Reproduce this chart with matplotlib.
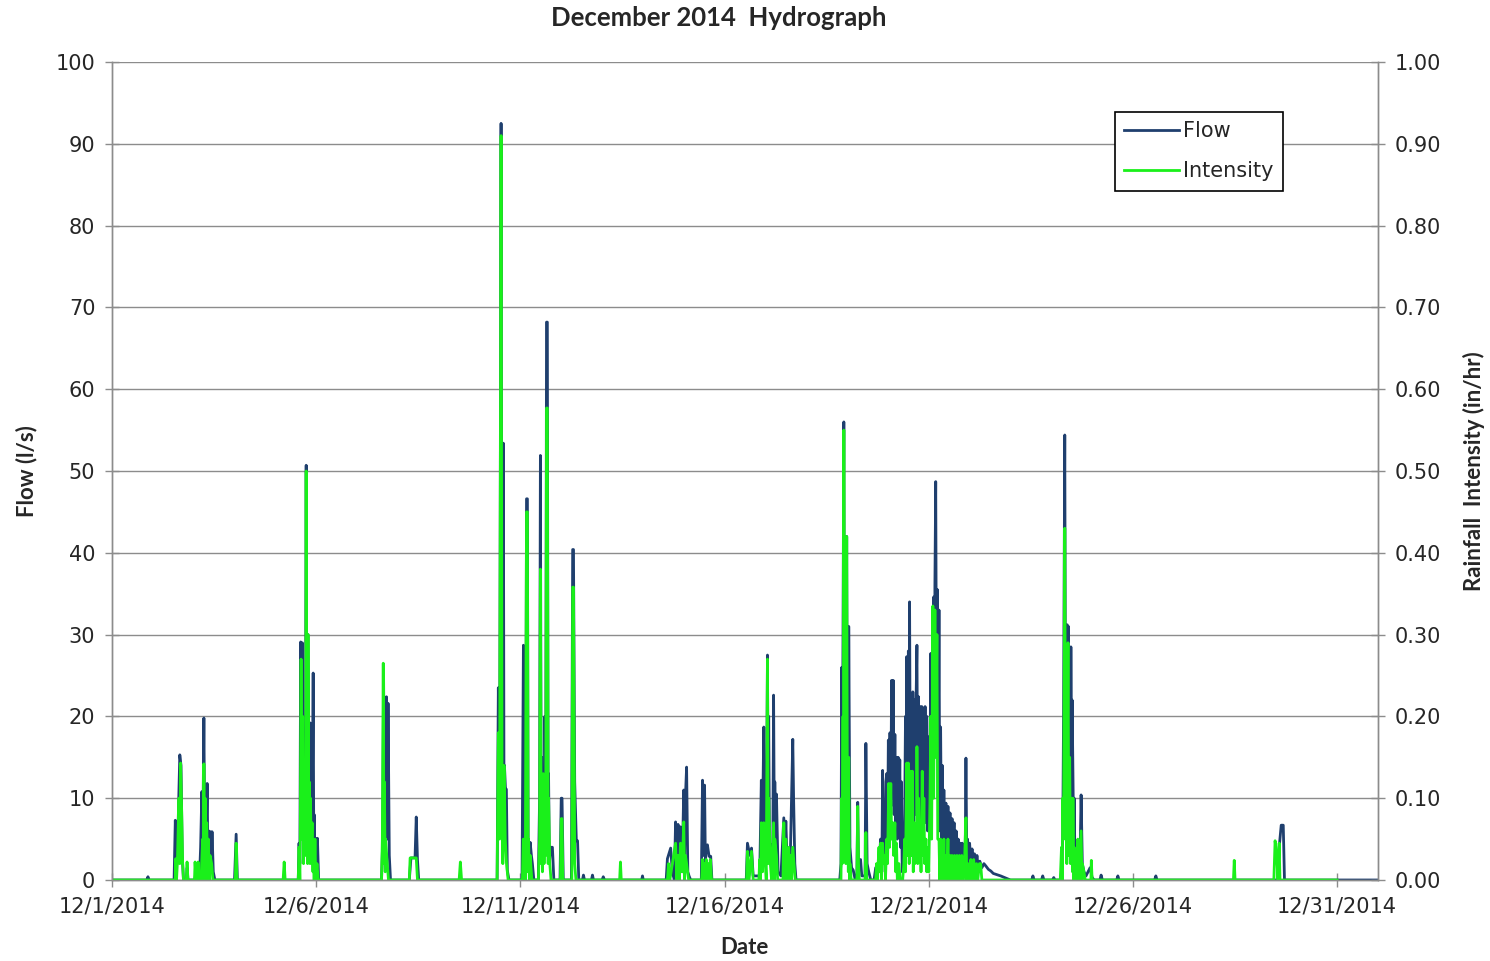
import numpy as np
import pandas as pd
import matplotlib
matplotlib.use("Agg")
import matplotlib.pyplot as plt
import matplotlib.dates as mdates
from matplotlib.ticker import FuncFormatter

# ---- data: (days after 12/1/2014 00:00, value) ----
# Flow, l/s
flow_pts = [
    (0.00, 0), (0.85, 0), (0.88, 0.4), (0.91, 0),
    (1.52, 0), (1.55, 7.3), (1.58, 2), (1.62, 7), (1.66, 15.3), (1.69, 14), (1.72, 3), (1.75, 0),
    (1.82, 0), (1.84, 1.5), (1.86, 0), (2.03, 0), (2.06, 1.5), (2.09, 0),
    (2.14, 0), (2.17, 4), (2.20, 10.8), (2.22, 3), (2.25, 19.8), (2.27, 5), (2.28, 9), (2.30, 3),
    (2.33, 11.8), (2.35, 2), (2.37, 6), (2.39, 1), (2.41, 5.9), (2.43, 2), (2.45, 5.9), (2.48, 1), (2.52, 0),
    (3.00, 0), (3.04, 5.6), (3.07, 0),
    (4.56, 0), (4.58, 4.5), (4.60, 2), (4.62, 29.1), (4.64, 10), (4.66, 29), (4.68, 8), (4.70, 12),
    (4.72, 5), (4.74, 20), (4.755, 50.7), (4.77, 15), (4.78, 30), (4.80, 30), (4.82, 8), (4.83, 14),
    (4.853, 19.2), (4.87, 6), (4.88, 10), (4.90, 4), (4.926, 25.3), (4.94, 5), (4.95, 8), (4.97, 3),
    (4.98, 5.1), (5.00, 2), (5.03, 5.1), (5.06, 0),
    (6.60, 0), (6.63, 5), (6.65, 25.3), (6.67, 8), (6.68, 22), (6.70, 6), (6.72, 22.4), (6.74, 5),
    (6.76, 21.6), (6.79, 3), (6.82, 0),
    (7.28, 0), (7.32, 2.7), (7.42, 2.7), (7.45, 7.7), (7.48, 2.5), (7.51, 0),
    (9.43, 0), (9.46, 23.5), (9.49, 8), (9.527, 92.5), (9.55, 10), (9.56, 20), (9.583, 53.4),
    (9.60, 6), (9.61, 14), (9.635, 11.1), (9.657, 11.1), (9.68, 1.2), (9.72, 0),
    (10.04, 0), (10.074, 28.7), (10.10, 4.5), (10.13, 3), (10.15, 46.6), (10.172, 46.6), (10.19, 3),
    (10.20, 4.6), (10.22, 1), (10.24, 4.6), (10.27, 3), (10.294, 2), (10.33, 0),
    (10.44, 0), (10.47, 10), (10.49, 51.9), (10.51, 5), (10.52, 15), (10.54, 3), (10.56, 10),
    (10.58, 4), (10.60, 20), (10.62, 8), (10.64, 68.2), (10.66, 68.2), (10.68, 6), (10.69, 13),
    (10.71, 2), (10.74, 4), (10.784, 4), (10.82, 0),
    (10.97, 0), (11.00, 10), (11.02, 10), (11.05, 0),
    (11.25, 0), (11.28, 40.4), (11.30, 40.4), (11.33, 12), (11.37, 4.8), (11.40, 4.8), (11.43, 0),
    (11.52, 0), (11.544, 0.6), (11.57, 0), (11.74, 0), (11.765, 0.6), (11.79, 0),
    (12.00, 0), (12.03, 0.4), (12.06, 0),
    (12.97, 0), (12.99, 0.5), (13.01, 0),
    (13.57, 0), (13.60, 2.6), (13.68, 3.9), (13.72, 1), (13.77, 0), (13.80, 7.1), (13.83, 2),
    (13.86, 6.8), (13.89, 2), (13.92, 6.5), (13.96, 1), (14.00, 11), (14.02, 3), (14.04, 10),
    (14.07, 13.8), (14.10, 1), (14.13, 0.5), (14.17, 0),
    (14.43, 0), (14.46, 12.2), (14.48, 3), (14.51, 11.6), (14.53, 2), (14.55, 4), (14.58, 4.3),
    (14.62, 2.9), (14.66, 2.9), (14.69, 0),
    (15.53, 0), (15.56, 4.5), (15.62, 3), (15.66, 3.9), (15.70, 0.5), (15.86, 0.5),
    (15.90, 12.2), (15.92, 3), (15.96, 18.7), (15.98, 4), (16.00, 8), (16.02, 3), (16.05, 27.5),
    (16.07, 5), (16.08, 20), (16.10, 4), (16.12, 3), (16.15, 4.3), (16.18, 3), (16.20, 22.6),
    (16.22, 4), (16.23, 12), (16.25, 3), (16.27, 10.5), (16.31, 1), (16.38, 0.5), (16.45, 7.6),
    (16.47, 2), (16.50, 7.2), (16.54, 1), (16.57, 3), (16.61, 3), (16.67, 17.2), (16.69, 10),
    (16.72, 2), (16.75, 0),
    (17.82, 0), (17.85, 2), (17.87, 26), (17.88, 8), (17.90, 30), (17.92, 56), (17.94, 10),
    (17.95, 30), (17.97, 8), (17.99, 42), (18.01, 6), (18.02, 20), (18.03, 5), (18.04, 31),
    (18.07, 4), (18.11, 1.5), (18.15, 1.2), (18.20, 0),
    (18.24, 0.5), (18.26, 9.5), (18.28, 1), (18.33, 2.5), (18.36, 0.5), (18.44, 0.5),
    (18.46, 16.7), (18.49, 2), (18.53, 1), (18.58, 0),
    (18.66, 0), (18.70, 1.5), (18.78, 1.5), (18.82, 5), (18.85, 1), (18.87, 13.4), (18.89, 3),
    (18.91, 8), (18.93, 2), (18.95, 12), (18.97, 13), (18.99, 4), (19.01, 17.1), (19.03, 8),
    (19.05, 18), (19.07, 9), (19.09, 24.4), (19.11, 10), (19.13, 24.4), (19.15, 8), (19.17, 17.8),
    (19.19, 6), (19.21, 15), (19.23, 5), (19.25, 15), (19.27, 6), (19.29, 14.7), (19.31, 4),
    (19.33, 12), (19.35, 1), (19.37, 2), (19.39, 1.5), (19.41, 8), (19.43, 20), (19.45, 6),
    (19.46, 27.3), (19.48, 10), (19.50, 28), (19.52, 12), (19.53, 34), (19.55, 8), (19.57, 22),
    (19.59, 9), (19.61, 23), (19.63, 7), (19.65, 22), (19.67, 8), (19.69, 22.4), (19.71, 28.7),
    (19.73, 9), (19.75, 22.4), (19.77, 7), (19.79, 21.2), (19.81, 8), (19.83, 21.2), (19.85, 6),
    (19.87, 21), (19.89, 9), (19.91, 21.2), (19.93, 7), (19.95, 20), (19.97, 6), (20.00, 17.5),
    (20.02, 8), (20.05, 27.7), (20.07, 10), (20.09, 24), (20.11, 12), (20.12, 34.6), (20.14, 15),
    (20.15, 36), (20.17, 48.7), (20.19, 20), (20.21, 35.5), (20.23, 10), (20.25, 33), (20.27, 6),
    (20.29, 18.7), (20.31, 4), (20.33, 14), (20.35, 3), (20.37, 11), (20.39, 3), (20.42, 9.4),
    (20.44, 2), (20.47, 9), (20.49, 3), (20.52, 8.2), (20.54, 2), (20.57, 7.5), (20.59, 3),
    (20.62, 7), (20.64, 2), (20.67, 6), (20.69, 3), (20.72, 5), (20.74, 2), (20.77, 4.5),
    (20.79, 2), (20.82, 4.5), (20.84, 2), (20.87, 4), (20.89, 2), (20.91, 14.9), (20.93, 3),
    (20.95, 5), (20.97, 2), (21.00, 4.5), (21.03, 2), (21.06, 3.8), (21.09, 2), (21.12, 3.2),
    (21.15, 1.5), (21.18, 3), (21.21, 1.5), (21.25, 2.3), (21.30, 1.5), (21.35, 2), (21.40, 1.7),
    (21.46, 1.3), (21.52, 1.1), (21.58, 0.8), (21.64, 0.7), (21.70, 0.6), (21.76, 0.5),
    (21.90, 0.2), (22.00, 0),
    (22.52, 0), (22.55, 0.5), (22.58, 0), (22.76, 0), (22.79, 0.5), (22.82, 0),
    (23.03, 0), (23.06, 0.3), (23.09, 0),
    (23.22, 0), (23.25, 1), (23.28, 5), (23.30, 20), (23.33, 54.4), (23.35, 15), (23.37, 30),
    (23.39, 31.2), (23.40, 12), (23.42, 31), (23.44, 10), (23.45, 22), (23.47, 12), (23.48, 28.5),
    (23.50, 8), (23.51, 22), (23.53, 13.4), (23.55, 4), (23.56, 10), (23.58, 2), (23.60, 4),
    (23.65, 2), (23.70, 1.5), (23.73, 10.4), (23.76, 2), (23.80, 1), (23.85, 0.5), (23.95, 1.5),
    (24.00, 0.3), (24.05, 0),
    (24.19, 0), (24.22, 0.6), (24.25, 0), (24.60, 0), (24.63, 0.5), (24.66, 0),
    (25.53, 0), (25.56, 0.5), (25.59, 0),
    (28.55, 0), (28.58, 4), (28.63, 6.7), (28.68, 6.7), (28.71, 0),
    (31.00, 0),
]

# Rainfall intensity, in/hr
rain_pts = [
    (0.00, 0),
    (1.55, 0), (1.56, 0.026), (1.58, 0), (1.60, 0.02), (1.64, 0.10), (1.66, 0.02), (1.68, 0.143),
    (1.70, 0.10), (1.73, 0.02), (1.75, 0),
    (1.82, 0), (1.838, 0.022), (1.86, 0), (2.02, 0), (2.034, 0.022), (2.06, 0),
    (2.09, 0), (2.108, 0.022), (2.13, 0),
    (2.18, 0), (2.22, 0.05), (2.23, 0), (2.25, 0.142), (2.27, 0.01), (2.28, 0.10), (2.30, 0),
    (2.32, 0.07), (2.34, 0), (2.36, 0.05), (2.38, 0), (2.40, 0.03), (2.44, 0.02), (2.47, 0),
    (3.02, 0), (3.04, 0.045), (3.06, 0),
    (4.19, 0), (4.216, 0.022), (4.24, 0),
    (4.56, 0), (4.58, 0.04), (4.60, 0), (4.61, 0.05), (4.63, 0.27), (4.65, 0.05), (4.67, 0.20),
    (4.69, 0.02), (4.72, 0.10), (4.74, 0.03), (4.755, 0.50), (4.77, 0.05), (4.78, 0.14),
    (4.79, 0.02), (4.80, 0.30), (4.82, 0.05), (4.83, 0.12), (4.85, 0.02), (4.86, 0.10),
    (4.88, 0.03), (4.90, 0.07), (4.92, 0.01), (4.93, 0.04), (4.95, 0), (4.97, 0.05), (4.99, 0),
    (5.02, 0.02), (5.05, 0),
    (6.60, 0), (6.62, 0.05), (6.642, 0.265), (6.66, 0.02), (6.67, 0.12), (6.69, 0.01),
    (6.70, 0.05), (6.74, 0.02), (6.77, 0),
    (7.28, 0), (7.30, 0.027), (7.45, 0.027), (7.48, 0),
    (8.50, 0), (8.53, 0.022), (8.56, 0),
    (9.43, 0), (9.46, 0.18), (9.49, 0.05), (9.527, 0.91), (9.55, 0.12), (9.57, 0.02),
    (9.60, 0.14), (9.63, 0.05), (9.66, 0.02), (9.70, 0),
    (10.05, 0), (10.07, 0.05), (10.10, 0.03), (10.12, 0), (10.15, 0.45), (10.172, 0.45),
    (10.19, 0.01), (10.20, 0.05), (10.22, 0), (10.24, 0.03), (10.28, 0),
    (10.44, 0), (10.47, 0.05), (10.49, 0.38), (10.51, 0.02), (10.52, 0.10), (10.54, 0.01),
    (10.56, 0.13), (10.58, 0.02), (10.60, 0.10), (10.62, 0.03), (10.64, 0.577), (10.66, 0.577),
    (10.68, 0.02), (10.69, 0.10), (10.72, 0.02), (10.75, 0),
    (10.98, 0), (11.00, 0.075), (11.02, 0.075), (11.04, 0),
    (11.26, 0), (11.28, 0.358), (11.30, 0.358), (11.33, 0.02), (11.36, 0),
    (12.43, 0), (12.45, 0.022), (12.47, 0),
    (13.60, 0), (13.63, 0.02), (13.66, 0), (13.80, 0.045), (13.83, 0), (13.86, 0.03),
    (13.89, 0), (13.92, 0.045), (13.96, 0.01), (14.00, 0.071), (14.02, 0), (14.04, 0.03),
    (14.07, 0.02), (14.12, 0),
    (14.44, 0), (14.46, 0.025), (14.48, 0), (14.50, 0.02), (14.52, 0), (14.55, 0.025),
    (14.57, 0), (14.60, 0.02), (14.62, 0), (14.65, 0.025), (14.68, 0),
    (15.54, 0), (15.56, 0.035), (15.60, 0), (15.66, 0.035), (15.70, 0),
    (15.84, 0), (15.86, 0.025), (15.88, 0), (15.90, 0.07), (15.93, 0.01), (15.96, 0.07),
    (16.00, 0.02), (16.02, 0), (16.05, 0.27), (16.07, 0.02), (16.08, 0.10), (16.12, 0.02),
    (16.15, 0), (16.20, 0.07), (16.22, 0), (16.23, 0.05), (16.27, 0.03), (16.30, 0),
    (16.43, 0), (16.45, 0.07), (16.47, 0), (16.50, 0.05), (16.53, 0), (16.57, 0.04),
    (16.60, 0), (16.62, 0.03), (16.64, 0), (16.67, 0.04), (16.70, 0.02), (16.73, 0),
    (17.85, 0), (17.87, 0.10), (17.88, 0.02), (17.90, 0.20), (17.91, 0.05), (17.92, 0.55),
    (17.94, 0.05), (17.95, 0.30), (17.97, 0.02), (17.99, 0.42), (18.01, 0.05), (18.02, 0.10),
    (18.03, 0.01), (18.04, 0.15), (18.06, 0), (18.07, 0.02), (18.10, 0),
    (18.24, 0), (18.26, 0.09), (18.28, 0.02), (18.30, 0),
    (18.44, 0), (18.46, 0.058), (18.48, 0),
    (18.70, 0), (18.72, 0.02), (18.74, 0), (18.78, 0.04), (18.80, 0.01), (18.82, 0.045),
    (18.84, 0), (18.87, 0.045), (18.89, 0.02), (18.92, 0.03), (18.94, 0), (18.97, 0.05),
    (18.99, 0.02), (19.02, 0.118), (19.04, 0.04), (19.07, 0.118), (19.09, 0.05), (19.12, 0.07),
    (19.14, 0.03), (19.17, 0.07), (19.19, 0.01), (19.21, 0.045), (19.23, 0), (19.27, 0.02),
    (19.30, 0), (19.36, 0), (19.39, 0.02), (19.41, 0.05), (19.43, 0.01), (19.46, 0.143),
    (19.48, 0.03), (19.50, 0.143), (19.52, 0.02), (19.54, 0.05), (19.56, 0.133), (19.58, 0.03),
    (19.60, 0.133), (19.62, 0.01), (19.64, 0.07), (19.66, 0.02), (19.68, 0.04), (19.70, 0.03),
    (19.71, 0.163), (19.73, 0.02), (19.75, 0.10), (19.77, 0.03), (19.79, 0.07), (19.81, 0.01),
    (19.84, 0.133), (19.86, 0.03), (19.88, 0.10), (19.90, 0.02), (19.93, 0.05), (19.95, 0.01),
    (19.98, 0.04), (20.00, 0.01), (20.03, 0.10), (20.05, 0.20), (20.07, 0.05), (20.10, 0.335),
    (20.12, 0.10), (20.15, 0.33), (20.17, 0.15), (20.20, 0.30), (20.22, 0.05), (20.25, 0.05),
    (20.27, 0), (20.29, 0.05), (20.31, 0), (20.33, 0.03), (20.35, 0), (20.37, 0.05), (20.39, 0),
    (20.42, 0.03), (20.44, 0), (20.47, 0.05), (20.49, 0), (20.52, 0.03), (20.54, 0),
    (20.57, 0.03), (20.60, 0), (20.63, 0.03), (20.66, 0), (20.69, 0.03), (20.72, 0),
    (20.75, 0.03), (20.78, 0), (20.81, 0.03), (20.85, 0), (20.88, 0.03), (20.91, 0.076),
    (20.93, 0), (20.96, 0.02), (21.00, 0), (21.03, 0.025), (21.06, 0), (21.10, 0.025),
    (21.13, 0), (21.17, 0.02), (21.20, 0), (21.24, 0.02), (21.27, 0.02), (21.30, 0),
    (23.22, 0), (23.25, 0.04), (23.27, 0), (23.28, 0.10), (23.30, 0.05), (23.33, 0.43),
    (23.35, 0.05), (23.36, 0.20), (23.38, 0.02), (23.41, 0.29), (23.43, 0.03), (23.45, 0.15),
    (23.47, 0.02), (23.50, 0.10), (23.52, 0.01), (23.53, 0.10), (23.55, 0), (23.56, 0.04),
    (23.58, 0), (23.60, 0.02), (23.63, 0), (23.65, 0.05), (23.67, 0), (23.70, 0.03),
    (23.73, 0.06), (23.75, 0), (23.76, 0.02), (23.80, 0.01), (23.83, 0),
    (23.97, 0), (23.98, 0.024), (24.00, 0),
    (27.46, 0), (27.48, 0.024), (27.50, 0),
    (28.45, 0), (28.48, 0.048), (28.52, 0.03), (28.55, 0), (28.58, 0.045), (28.60, 0),
    (30.00, 0),
]

tick_dates = ["2014-12-01", "2014-12-06", "2014-12-11", "2014-12-16",
              "2014-12-21", "2014-12-26", "2014-12-31"]
flow_ticks = list(range(0, 101, 10))
rain_ticks = [i / 100 for i in range(0, 101, 10)]

# ---- styling ----
FLOW_COLOR = "#1F3F6E"
RAIN_COLOR = "#1AF01A"
GRID_COLOR = "#8C8C8C"
TEXT_COLOR = "#262626"

start = pd.Timestamp("2014-12-01")
flow_t, flow_q = zip(*flow_pts)
rain_t, rain_i = zip(*rain_pts)
flow_dt = start + pd.to_timedelta(np.array(flow_t), unit="D")
rain_dt = start + pd.to_timedelta(np.array(rain_t), unit="D")

fig = plt.figure(figsize=(14.9, 9.61), dpi=100)
ax = fig.add_axes([112 / 1490, 1 - 880 / 961, (1378 - 112) / 1490, (880 - 62) / 961])
ax2 = ax.twinx()

ax.plot(flow_dt, flow_q, color=FLOW_COLOR, lw=2.0, label="Flow")
ax2.plot(rain_dt, rain_i, color=RAIN_COLOR, lw=2.0, label="Intensity")

ax.set_xlim(start, start + pd.Timedelta(days=31))
ax.set_ylim(0, 100)
ax2.set_ylim(0, 1.0)

ax.set_yticks(flow_ticks)
ax2.set_yticks(rain_ticks)
ax2.yaxis.set_major_formatter(FuncFormatter(lambda v, p: f"{v:.2f}"))

ax.set_xticks(pd.to_datetime(tick_dates))
ax.xaxis.set_major_formatter(FuncFormatter(
    lambda v, p: (lambda d: f"{d.month}/{d.day}/{d.year}")(mdates.num2date(v))))

ax.grid(axis="y", color=GRID_COLOR, lw=1.0)
ax.set_axisbelow(True)

for a in (ax, ax2):
    for side in ("left", "right", "bottom"):
        a.spines[side].set_color(GRID_COLOR)
        a.spines[side].set_linewidth(1.0)
    a.spines["top"].set_visible(False)
    a.tick_params(direction="inout", length=10, width=1.0, color=GRID_COLOR,
                  labelsize=15, labelcolor=TEXT_COLOR, pad=7)

label_font = dict(fontsize=16, fontweight="bold", family="Lato", color=TEXT_COLOR)
ax.set_ylabel("Flow (l/s)", **label_font)
ax.yaxis.set_label_coords(-(112 - 37) / 1266, 0.5)
ax2.set_ylabel("Rainfall  Intensity (in/hr)", rotation=90, **label_font)
ax2.yaxis.set_label_coords((1463 - 112) / 1266, 0.5)
ax.set_xlabel("Date", **label_font)
ax.xaxis.label.set_va("center")
ax.xaxis.set_label_coords((744 - 112) / 1266, -(948 - 880) / 818)

fig.text(719 / 1490, 1 - 18 / 961, "December 2014  Hydrograph", ha="center", va="center",
         fontsize=18.5, fontweight="bold", family="Lato", color=TEXT_COLOR)

h1, l1 = ax.get_legend_handles_labels()
h2, l2 = ax2.get_legend_handles_labels()
leg = ax2.legend(h1 + h2, l1 + l2, loc="upper left",
                 bbox_to_anchor=((1115 - 112) / 1266, (880 - 112) / 818),
                 fontsize=15, frameon=True, fancybox=False, edgecolor="#000000",
                 framealpha=1.0, borderpad=0.45, labelspacing=0.95,
                 handlelength=2.6, handletextpad=0.2, borderaxespad=0)
leg.get_frame().set_linewidth(1.2)
for t in leg.get_texts():
    t.set_color(TEXT_COLOR)

fig.savefig("out.png", dpi=100)
